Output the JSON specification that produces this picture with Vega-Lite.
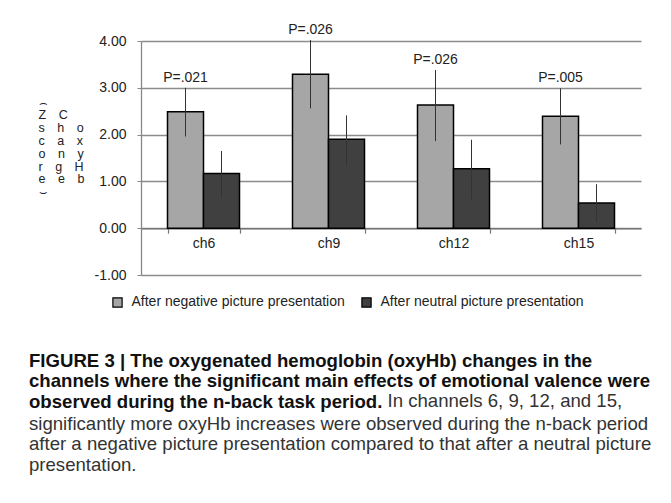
{
  "$schema": "https://vega.github.io/schema/vega-lite/v6.json",
  "width": 500,
  "height": 234,
  "padding": {"left": 29, "top": 23, "right": 5, "bottom": 5},
  "background": "white",
  "config": {"font": "Liberation Sans", "view": {"stroke": null}},
  "title": {
    "text": ["FIGURE 3 | The oxygenated hemoglobin (oxyHb) changes in the", "channels where the significant main effects of emotional valence were", "observed during the n-back task period."],
    "subtitle": ["significantly more oxyHb increases were observed during the n-back period", "after a negative picture presentation compared to that after a neutral picture", "presentation."],
    "orient": "bottom",
    "anchor": "start",
    "frame": "group",
    "dx": -112,
    "offset": -58,
    "font": "Liberation Sans",
    "fontSize": 18.6,
    "fontWeight": "bold",
    "color": "#111",
    "lineHeight": 20.6,
    "subtitleFont": "Liberation Sans",
    "subtitleFontSize": 18.6,
    "subtitleFontWeight": "normal",
    "subtitleColor": "#333",
    "subtitleLineHeight": 20.6,
    "subtitlePadding": 3
  },
  "datasets": {
    "bars": [
      {"ch": "ch6", "group": "After negative picture presentation", "value": 2.49, "lo": 1.96, "hi": 3.0, "p": "P=.021"},
      {"ch": "ch6", "group": "After neutral picture presentation", "value": 1.17, "lo": 0.66, "hi": 1.65, "p": null},
      {"ch": "ch9", "group": "After negative picture presentation", "value": 3.29, "lo": 2.56, "hi": 4.02, "p": "P=.026"},
      {"ch": "ch9", "group": "After neutral picture presentation", "value": 1.9, "lo": 1.34, "hi": 2.41, "p": null},
      {"ch": "ch12", "group": "After negative picture presentation", "value": 2.63, "lo": 1.86, "hi": 3.38, "p": "P=.026"},
      {"ch": "ch12", "group": "After neutral picture presentation", "value": 1.27, "lo": 0.61, "hi": 1.89, "p": null},
      {"ch": "ch15", "group": "After negative picture presentation", "value": 2.39, "lo": 1.79, "hi": 2.99, "p": "P=.005"},
      {"ch": "ch15", "group": "After neutral picture presentation", "value": 0.54, "lo": 0.14, "hi": 0.94, "p": null}
    ]
  },
  "data": {"name": "bars"},
  "encoding": {
    "x": {
      "field": "ch", "type": "nominal", "sort": ["ch6", "ch9", "ch12", "ch15"],
      "scale": {"paddingInner": 0.424, "paddingOuter": 0.212},
      "axis": {
        "title": "In channels 6, 9, 12, and 15,", "titleFontSize": 18.6, "titleFontWeight": "normal", "titleColor": "#333", "titleAlign": "left", "titleBaseline": "alphabetic", "titleX": 246, "titleY": 178,
        "offset": -46.8, "labelAngle": 0, "labelFontSize": 14, "labelColor": "#222", "labelPadding": 3, "domainColor": "#777", "domainWidth": 1.5, "tickBand": "extent", "tickSize": 5, "tickColor": "#777", "tickWidth": 1.2, "grid": false
      }
    },
    "xOffset": {"field": "group", "type": "nominal", "sort": ["After negative picture presentation", "After neutral picture presentation"], "scale": {"paddingInner": 0, "paddingOuter": 0}}
  },
  "layer": [
    {
      "mark": {"type": "bar", "stroke": "black", "strokeWidth": 1.5},
      "encoding": {
        "y": {
          "field": "value", "type": "quantitative",
          "scale": {"domain": [-1, 4], "nice": false, "zero": false},
          "axis": {
            "values": [-1, 0, 1, 2, 3, 4], "format": ".2f", "labelExpr": "replace(datum.label, '\u2212', '-')",
            "labelFontSize": 14, "labelColor": "#222", "labelPadding": 11, "tickSize": 4, "tickColor": "#888", "domainColor": "#888", "domainWidth": 1.3,
            "grid": true, "gridColor": "#8c8c8c", "gridWidth": 1.3,
            "title": ["\u2322", "Z\u2002\u2002C", "s\u2002\u2002h\u2002\u2002o", "c\u2002\u2002a\u2002\u2002x", "o\u2002\u2002n\u2002\u2002y", "r\u2002\u2002g\u2002\u2002H", "e\u2002\u2002e\u2002\u2002b", "\u2323"],
            "titleAngle": 0, "titleAlign": "left", "titleBaseline": "alphabetic", "titleX": -103, "titleY": 65,
            "titleFontSize": 12.5, "titleFontWeight": "normal", "titleLineHeight": 12.8, "titleColor": "#222"
          }
        },
        "color": {
          "field": "group", "type": "nominal",
          "scale": {"domain": ["After negative picture presentation", "After neutral picture presentation"], "range": ["#a6a6a6", "#404040"]},
          "legend": {"orient": "none", "legendX": -30.5, "legendY": 254, "direction": "horizontal", "title": null, "symbolType": "square", "symbolSize": 85, "symbolStrokeColor": "black", "symbolStrokeWidth": 1.2, "symbolOpacity": 1, "labelFontSize": 14, "labelOffset": 7, "columnPadding": 13, "labelColor": "#222", "labelLimit": 400}
        }
      }
    },
    {
      "mark": {"type": "rule", "color": "#333", "strokeWidth": 1},
      "encoding": {
        "y": {"field": "lo", "type": "quantitative"},
        "y2": {"field": "hi"}
      }
    },
    {
      "transform": [{"filter": "isValid(datum.p)"}],
      "mark": {"type": "text", "fontSize": 14, "baseline": "alphabetic", "dy": -6, "color": "#222"},
      "encoding": {
        "y": {"field": "hi", "type": "quantitative"},
        "text": {"field": "p"}
      }
    }
  ]
}
